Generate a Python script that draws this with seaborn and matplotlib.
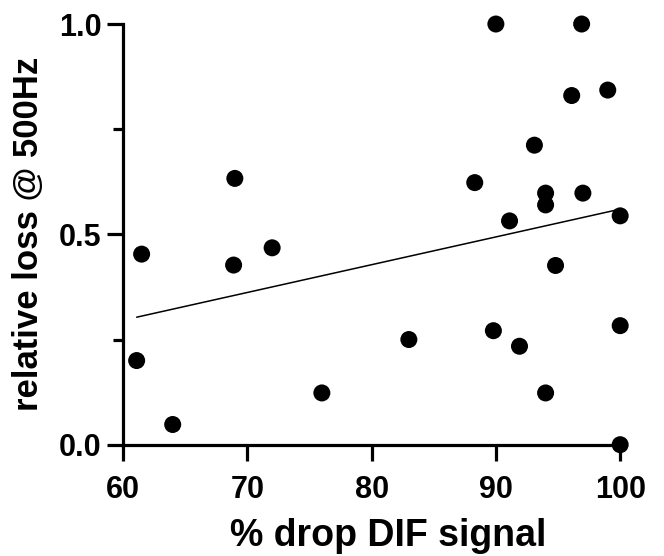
import numpy as np
import pandas as pd
import matplotlib
matplotlib.use("Agg")
import matplotlib.pyplot as plt
import seaborn as sns
from matplotlib.ticker import MultipleLocator

# --- Data ---
drop_dif = [61.1, 61.5, 64.0, 69.0, 68.9, 72.0, 76.0, 83.0, 88.3, 90.0,
            89.8, 91.1, 91.9, 93.1, 94.0, 94.0, 94.0, 94.8, 96.1, 96.9,
            97.0, 99.0, 100.0, 100.0, 100.0]
rel_loss = [0.200, 0.453, 0.048, 0.633, 0.427, 0.468, 0.123, 0.250, 0.623, 1.0,
            0.271, 0.532, 0.234, 0.712, 0.598, 0.570, 0.123, 0.426, 0.830, 1.0,
            0.598, 0.843, 0.544, 0.283, 0.0]

df = pd.DataFrame({"drop": drop_dif, "loss": rel_loss})

sns.set_style("ticks")
plt.rcParams["font.family"] = ["Liberation Sans", "DejaVu Sans"]
plt.rcParams["font.weight"] = "bold"
plt.rcParams["text.color"] = "black"
plt.rcParams["axes.labelcolor"] = "black"
plt.rcParams["xtick.color"] = "black"
plt.rcParams["ytick.color"] = "black"

fig = plt.figure(figsize=(6.64, 5.56), dpi=100)
ax = fig.add_axes([0.1852, 0.2002, 0.7488, 0.7566])

sns.scatterplot(data=df, x="drop", y="loss", ax=ax, color="black",
                s=150, edgecolor="none", clip_on=False, zorder=3)
sns.regplot(data=df, x="drop", y="loss", ax=ax, scatter=False, ci=None,
            truncate=True, color="black", line_kws={"linewidth": 1.1})

ax.set_xlim(60, 100)
ax.set_ylim(0, 1.0)
ax.set_xticks([60, 70, 80, 90, 100])
ax.set_yticks([0.0, 0.5, 1.0])
ax.yaxis.set_minor_locator(MultipleLocator(0.25))
ax.set_yticklabels(["0.0", "0.5", "1.0"])

for s in ["top", "right"]:
    ax.spines[s].set_visible(False)
for s in ["left", "bottom"]:
    ax.spines[s].set_linewidth(2.3)
    ax.spines[s].set_color("black")

ax.tick_params(axis="both", which="major", direction="out", length=11.5,
               width=2.3, labelsize=22, colors="black", pad=4)
ax.tick_params(axis="x", which="major", pad=10)
ax.tick_params(axis="y", which="minor", direction="out", length=7,
               width=2.3, color="black")

ax.set_xlabel("% drop DIF signal", fontsize=27, fontweight="bold", labelpad=10)
ax.xaxis.label.set_x(0.533)
ax.set_ylabel("relative loss @ 500Hz", fontsize=25, fontweight="bold", labelpad=10)

fig.savefig("out.png", dpi=100)
